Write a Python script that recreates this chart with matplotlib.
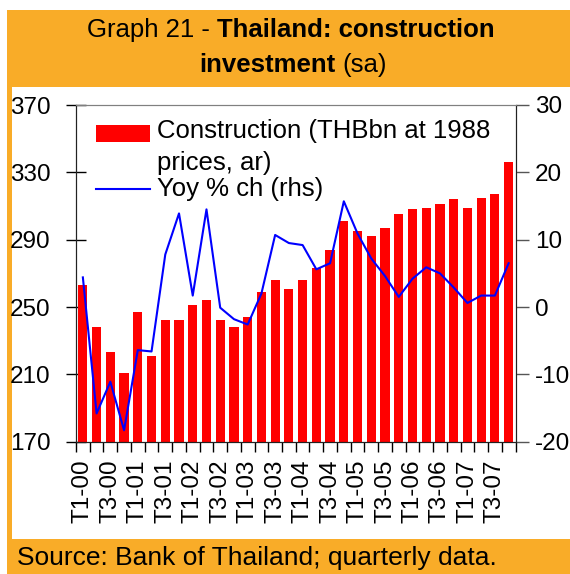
import matplotlib
matplotlib.use('Agg')
import matplotlib.pyplot as plt
from matplotlib.patches import Rectangle
from matplotlib.lines import Line2D
import numpy as np

plt.rcParams['font.family'] = ['Liberation Sans', 'DejaVu Sans']
plt.rcParams['axes.unicode_minus'] = False

# quarterly data, T1-00 .. T4-07
construction = [263, 238, 223, 211, 247, 221, 242, 242, 251, 254, 242, 238,
                244, 259, 266, 261, 266, 273, 284, 301, 295, 292, 297, 305,
                308, 309, 311, 314, 309, 315, 317, 336]
yoy = [4.4, -15.8, -11.1, -18.3, -6.4, -6.6, 7.8, 13.9, 1.7, 14.5, -0.1, -1.8,
       -2.6, 2.0, 10.7, 9.5, 9.2, 5.6, 6.5, 15.7, 10.9, 7.2, 4.6, 1.5,
       4.2, 5.9, 5.0, 2.9, 0.6, 1.7, 1.7, 6.5]
tick_labels = ['T1-00', 'T3-00', 'T1-01', 'T3-01', 'T1-02', 'T3-02', 'T1-03',
               'T3-03', 'T1-04', 'T3-04', 'T1-05', 'T3-05', 'T1-06', 'T3-06',
               'T1-07', 'T3-07']
left_ticks = [170, 210, 250, 290, 330, 370]
right_ticks = [-20, -10, 0, 10, 20, 30]

ORANGE = '#F9AC28'
W, H = 570, 574


def fx(px):
    return px / W


def fy(py):
    return 1 - py / H


fig = plt.figure(figsize=(5.7, 5.74), dpi=100)

# orange frame and white inner panel
fig.patches.append(Rectangle((fx(7), 0), 1 - fx(7), fy(10), transform=fig.transFigure,
                             facecolor=ORANGE, edgecolor='none', zorder=-2))
fig.patches.append(Rectangle((fx(12), fy(539)), 1 - fx(12), fy(87.3) - fy(539),
                             transform=fig.transFigure, facecolor='white',
                             edgecolor='none', zorder=-1))


def rich_line(pieces, xc, yb, size):
    '''draw a line of text made of (string, weight) pieces, centred on xc'''
    texts = [fig.text(0, yb, s, fontsize=size, fontweight=w, va='baseline', ha='left')
             for s, w in pieces]
    fig.canvas.draw()
    r = fig.canvas.get_renderer()
    probe = fig.text(0, 0, 'a a', fontsize=size)
    probe2 = fig.text(0, 0, 'aa', fontsize=size)
    gap = probe.get_window_extent(r).width - probe2.get_window_extent(r).width
    probe.remove()
    probe2.remove()
    widths = [t.get_window_extent(r).width for t in texts]
    total = sum(widths) + gap * (len(texts) - 1)
    x = xc * W - total / 2
    for t, w in zip(texts, widths):
        t.set_x(x / W)
        x += w + gap


rich_line([('Graph 21 -', 'normal'), ('Thailand: construction', 'bold')],
          fx(291), fy(36.7), 18.5)
rich_line([('investment', 'bold'), ('(sa)', 'normal')], fx(293), fy(71.7), 18.5)

fig.text(fx(16.7), fy(565), 'Source: Bank of Thailand; quarterly data.',
         fontsize=19, va='baseline', ha='left')

ax = fig.add_axes([fx(76), fy(441.7), fx(515.5) - fx(76), fy(105) - fy(441.7)])
ax2 = ax.twinx()

x = np.arange(len(construction))
ax.bar(x, construction, width=0.67, color='#FF0000', zorder=2)
ax2.plot(x, yoy, color='#0000FF', lw=1.5, zorder=3)

ax.set_xlim(-0.5, len(construction) - 0.5)
ax.set_ylim(170, 370)
ax2.set_ylim(-20, 30)

ax.set_yticks(left_ticks)
ax2.set_yticks(right_ticks)
ax.set_xticks(x[::2])
ax.set_xticklabels(tick_labels, rotation=90)
ax.set_xticks(np.arange(-0.5, len(construction), 1), minor=True)

ax.tick_params(axis='y', direction='inout', length=15, width=1, pad=11, labelsize=17.5)
ax2.tick_params(axis='y', direction='out', length=9, width=1, pad=5, labelsize=17.5,
                color='#555555')
ax.tick_params(axis='x', which='major', length=0, pad=13, labelsize=17.5)
ax.tick_params(axis='x', which='minor', direction='out', length=7, width=1)

for a in (ax, ax2):
    a.spines['top'].set_color('#808080')
    a.spines['left'].set_color('#222222')
    a.spines['bottom'].set_color('#222222')
    a.spines['right'].set_color('#222222')

# legend drawn by hand to match the layout
ax2.add_patch(Rectangle((0.0455, 0.891), 0.1228, 0.0496, transform=ax2.transAxes,
                        facecolor='#FF0000', edgecolor='none', zorder=5))
ax2.text(0.1843, 0.9029, 'Construction (THBbn at 1988', transform=ax2.transAxes,
         fontsize=18.5, va='baseline', ha='left', zorder=5)
ax2.text(0.1843, 0.807, 'prices, ar)', transform=ax2.transAxes,
         fontsize=18.5, va='baseline', ha='left', zorder=5)
ax2.add_line(Line2D([0.0455, 0.1683], [0.7505, 0.7505], transform=ax2.transAxes,
                    color='#0000FF', lw=1.5, zorder=5))
ax2.text(0.1843, 0.7297, 'Yoy % ch (rhs)', transform=ax2.transAxes,
         fontsize=18.5, va='baseline', ha='left', zorder=5)

fig.savefig('out.png', dpi=100)
